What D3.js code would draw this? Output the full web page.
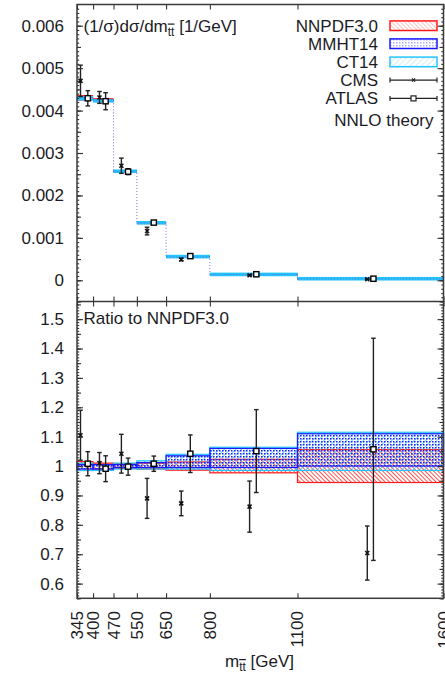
<!DOCTYPE html>
<html>
<head>
<meta charset="utf-8">
<script src="https://cdn.jsdelivr.net/npm/d3@7"></script>
<style>
  body { margin: 0; background: #fff; }
  svg { display: block; font-family: "Liberation Sans", Arial, sans-serif; }
  .lbl { fill: #1b1b24; font-size: 17px; }
  .axis text { fill: #1b1b24; font-size: 17px; font-family: "Liberation Sans", Arial, sans-serif; }
  .axis line { stroke: #333; stroke-width: 1.1; }
  .axis path { display: none; }
</style>
</head>
<body>
<script>
// bin edges of m_tt [GeV]
const edges = [345, 400, 470, 550, 650, 800, 1100, 1600];

// NNLO theory with NNPDF3.0, (1/sigma) dsigma/dm [1/GeV]
const theory = [0.00430, 0.00425, 0.00257, 0.00135, 0.00055, 0.000135, 0.000035];

// PDF bands, as ratio to NNPDF3.0
const nnpdfLo = [0.985, 0.990, 0.992, 0.990, 0.986, 0.977, 0.944];
const nnpdfHi = [1.015, 1.010, 1.008, 1.010, 1.014, 1.023, 1.056];
const mmhtLo  = [0.990, 0.990, 0.995, 0.995, 0.995, 0.995, 1.000];
const mmhtHi  = [1.005, 1.005, 1.005, 1.012, 1.035, 1.060, 1.110];
const ct14Lo  = [0.985, 0.985, 0.990, 0.990, 0.990, 0.985, 0.985];
const ct14Hi  = [1.010, 1.005, 1.010, 1.018, 1.040, 1.064, 1.115];

// CMS data
const cmsX      = [357, 422, 497, 585, 702, 936, 1339];
const cmsVal    = [0.00470, 0.00431, 0.00270, 0.00116, 0.00049, 0.000118, 0.000025];
const cmsErr    = [0.00037, 0.00014, 0.00018, 0.00009, 0.00003, 0.00001, 0.000003];
const cmsRatio  = [1.105, 1.010, 1.042, 0.890, 0.873, 0.862, 0.704];
const cmsRErr   = [0.085, 0.036, 0.066, 0.068, 0.042, 0.087, 0.092];

// ATLAS data
const atlasX     = [382, 443, 520, 608, 733, 959, 1360];
const atlasVal   = [0.00429, 0.00422, 0.00256, 0.00136, 0.00057, 0.000142, 0.000037];
const atlasErr   = [0.00018, 0.00020, 0.00007, 0.00004, 0.00003, 0.00002, 0.000013];
const atlasRatio = [1.008, 0.991, 0.998, 1.008, 1.042, 1.051, 1.057];
const atlasRErr  = [0.041, 0.044, 0.029, 0.026, 0.064, 0.141, 0.378];

// tick labels
const topTicks = [0, 0.001, 0.002, 0.003, 0.004, 0.005, 0.006];
const ratioTicks = [0.6, 0.7, 0.8, 0.9, 1, 1.1, 1.2, 1.3, 1.4, 1.5];

const W = 445, H = 676;
const left = 77, right = 443.5;
const top1 = 4.5, mid = 301.5, bot2 = 598.3;

const svg = d3.select('body').append('svg').attr('width', W).attr('height', H);

const x = d3.scaleLinear().domain([345, 1600]).range([left, right]);
const yTop = d3.scaleLinear().domain([-0.0005, 0.0065]).range([mid, top1]);
const yRat = d3.scaleLinear().domain([0.55, 1.56]).range([bot2, mid]);

// patterns for the bands
const defs = svg.append('defs');
function hatch(id, color, angle, gap, width) {
    const p = defs.append('pattern').attr('id', id)
        .attr('patternUnits', 'userSpaceOnUse')
        .attr('width', gap).attr('height', gap)
        .attr('patternTransform', `rotate(${angle})`);
    p.append('line').attr('x1', 0).attr('y1', 0).attr('x2', 0).attr('y2', gap)
        .attr('stroke', color).attr('stroke-width', width);
}
hatch('hNN', '#ff1a1a', -45, 3, 1.5);
hatch('hCT', '#22c4ff', 45, 4, 1.4);
const dots = defs.append('pattern').attr('id', 'hMM')
    .attr('patternUnits', 'userSpaceOnUse').attr('width', 3).attr('height', 3);
dots.append('rect').attr('width', 1.5).attr('height', 1.5).attr('fill', '#1a1aff');

const bands = [
    { name: 'NNPDF3.0', lo: nnpdfLo, hi: nnpdfHi, color: '#ff1a1a', fill: 'url(#hNN)', minH: 2.2 },
    { name: 'MMHT14', lo: mmhtLo, hi: mmhtHi, color: '#1a1aff', fill: 'url(#hMM)', minH: 2.2 },
    { name: 'CT14', lo: ct14Lo, hi: ct14Hi, color: '#22c4ff', fill: 'url(#hCT)', minH: 3.6 }
];
const bins = d3.range(theory.length);

// --- top panel: theory steps ---
const gTop = svg.append('g');
bands.forEach(b => {
    gTop.selectAll(null).data(bins).enter().append('rect')
        .attr('x', i => x(edges[i]))
        .attr('width', i => x(edges[i + 1]) - x(edges[i]))
        .attr('y', i => {
            const yc = yTop(theory[i] * (b.lo[i] + b.hi[i]) / 2);
            const h = Math.max(yTop(theory[i] * b.lo[i]) - yTop(theory[i] * b.hi[i]), b.minH);
            return yc - h / 2;
        })
        .attr('height', i => Math.max(yTop(theory[i] * b.lo[i]) - yTop(theory[i] * b.hi[i]), b.minH))
        .attr('fill', b.color);
});

// dotted central step line
const step = [];
bins.forEach(i => { step.push([edges[i], theory[i]]); step.push([edges[i + 1], theory[i]]); });
gTop.append('path')
    .attr('d', d3.line().x(d => x(d[0])).y(d => yTop(d[1]))(step))
    .attr('fill', 'none').attr('stroke', '#6f6fe8').attr('stroke-width', 1)
    .attr('stroke-dasharray', '1,2');

// --- ratio panel: bands ---
const gRat = svg.append('g');
[bands[0], bands[2], bands[1]].forEach(b => {
    gRat.selectAll(null).data(bins).enter().append('rect')
        .attr('x', i => x(edges[i]))
        .attr('width', i => x(edges[i + 1]) - x(edges[i]))
        .attr('y', i => yRat(b.hi[i]))
        .attr('height', i => yRat(b.lo[i]) - yRat(b.hi[i]))
        .attr('fill', b.fill)
        .attr('stroke', b.color).attr('stroke-width', 1.2);
});

// --- data points ---
function drawPoints(g, xs, vals, errs, y, kind) {
    const pts = g.selectAll(null).data(d3.range(xs.length)).enter().append('g')
        .attr('transform', i => `translate(${x(xs[i])},0)`);
    pts.append('line')
        .attr('x1', 0).attr('x2', 0)
        .attr('y1', i => y(vals[i] - errs[i])).attr('y2', i => y(vals[i] + errs[i]))
        .attr('stroke', '#222').attr('stroke-width', 1.4);
    [-1, 1].forEach(s => {
        pts.append('line')
            .attr('x1', -2.3).attr('x2', 2.3)
            .attr('y1', i => y(vals[i] + s * errs[i])).attr('y2', i => y(vals[i] + s * errs[i]))
            .attr('stroke', '#222').attr('stroke-width', 1.4);
    });
    if (kind === 'cms') {
        pts.append('path')
            .attr('d', i => {
                const yy = y(vals[i]);
                return `M-2,${yy - 2}L2,${yy + 2}M-2,${yy + 2}L2,${yy - 2}`;
            })
            .attr('stroke', '#111').attr('stroke-width', 1.5);
    } else {
        pts.append('rect')
            .attr('x', -2.6).attr('y', i => y(vals[i]) - 2.6)
            .attr('width', 5.2).attr('height', 5.2)
            .attr('fill', '#fff').attr('stroke', '#000').attr('stroke-width', 1.4);
    }
}
drawPoints(gTop, cmsX, cmsVal, cmsErr, yTop, 'cms');
drawPoints(gTop, atlasX, atlasVal, atlasErr, yTop, 'atlas');
drawPoints(gRat, cmsX, cmsRatio, cmsRErr, yRat, 'cms');
drawPoints(gRat, atlasX, atlasRatio, atlasRErr, yRat, 'atlas');

// --- frames and ticks ---
function yAxes(scale, majors, medStep, minStep, fmt) {
    const dom = scale.domain();
    const meds = d3.range(Math.ceil(dom[0] / medStep) * medStep, dom[1], medStep);
    const mins = d3.range(Math.ceil(dom[0] / minStep) * minStep, dom[1], minStep);
    const gl = svg.append('g').attr('class', 'axis').attr('transform', `translate(${left},0)`);
    gl.call(d3.axisLeft(scale).tickValues(majors).tickSizeInner(-6).tickSizeOuter(0).tickPadding(13).tickFormat(fmt));
    gl.append('g').call(d3.axisLeft(scale).tickValues(meds).tickSizeInner(-4).tickSizeOuter(0).tickFormat(''));
    gl.append('g').call(d3.axisLeft(scale).tickValues(mins).tickSizeInner(-2.2).tickSizeOuter(0).tickFormat(''));
    const gr = svg.append('g').attr('class', 'axis').attr('transform', `translate(${right},0)`);
    gr.call(d3.axisRight(scale).tickValues(majors).tickSizeInner(-6).tickSizeOuter(0).tickFormat(''));
    gr.append('g').call(d3.axisRight(scale).tickValues(meds).tickSizeInner(-4).tickSizeOuter(0).tickFormat(''));
    gr.append('g').call(d3.axisRight(scale).tickValues(mins).tickSizeInner(-2.2).tickSizeOuter(0).tickFormat(''));
}
yAxes(yTop, topTicks, 0.0005, 0.0001, d => d === 0 ? '0' : d3.format('.3f')(d));
yAxes(yRat, ratioTicks, 0.05, 0.01, d => d === 1 ? '1' : d3.format('.1f')(d));

// x ticks at bin edges
[[top1, 5], [mid, -5], [mid, 5], [bot2, -5]].forEach(([yy, len]) => {
    const g = svg.append('g').attr('class', 'axis').attr('transform', `translate(0,${yy})`);
    g.call(d3.axisBottom(x).tickValues(edges).tickSizeInner(len).tickSizeOuter(0).tickFormat(''));
});

// x tick labels, rotated
svg.append('g').selectAll('text').data(edges).enter().append('text')
    .attr('class', 'lbl')
    .attr('transform', d => `translate(${x(d) + 6},611) rotate(-90)`)
    .attr('text-anchor', 'end')
    .text(d => d);

// frame
const frame = svg.append('g').attr('fill', 'none').attr('stroke', '#3a3a3a').attr('stroke-width', 1.5);
frame.append('rect').attr('x', left).attr('y', top1).attr('width', right - left).attr('height', bot2 - top1);
frame.append('line').attr('x1', left).attr('x2', right).attr('y1', mid).attr('y2', mid);

// panel titles
const t1 = svg.append('text').attr('class', 'lbl').attr('x', 83.5).attr('y', 31.5);
t1.append('tspan').text('(1/σ)dσ/dm');
t1.append('tspan').attr('font-size', 12).attr('dy', 4).style('text-decoration', 'overline').text('tt');
t1.append('tspan').attr('dy', -4).text(' [1/GeV]');

svg.append('text').attr('class', 'lbl').attr('x', 83.5).attr('y', 324.3).text('Ratio to NNPDF3.0');

// x label
const xl = svg.append('text').attr('class', 'lbl').attr('x', 225).attr('y', 667);
xl.append('tspan').text('m');
xl.append('tspan').attr('font-size', 12).attr('dy', 4).style('text-decoration', 'overline').text('tt');
xl.append('tspan').attr('dy', -4).text(' [GeV]');

// legend
const legendRows = [25.7, 43.7, 61.9, 80.1, 98.4];
const legX = 378, boxX = 390, boxW = 47;
bands.forEach((b, k) => {
    const yc = legendRows[k];
    svg.append('text').attr('class', 'lbl').attr('x', legX).attr('y', yc + 6).attr('text-anchor', 'end').text(b.name);
    svg.append('rect').attr('x', boxX).attr('y', yc - 4.8).attr('width', boxW).attr('height', 9.6)
        .attr('fill', b.fill).attr('fill-opacity', 0.35)
        .attr('stroke', b.color).attr('stroke-width', 1.5);
});
['CMS', 'ATLAS'].forEach((name, k) => {
    const yc = legendRows[3 + k];
    svg.append('text').attr('class', 'lbl').attr('x', legX).attr('y', yc + 6).attr('text-anchor', 'end').text(name);
    const g = svg.append('g').attr('stroke', '#222').attr('stroke-width', 1.2);
    g.append('line').attr('x1', boxX).attr('x2', boxX + boxW).attr('y1', yc).attr('y2', yc);
    g.append('line').attr('x1', boxX).attr('x2', boxX).attr('y1', yc - 2.5).attr('y2', yc + 2.5);
    g.append('line').attr('x1', boxX + boxW).attr('x2', boxX + boxW).attr('y1', yc - 2.5).attr('y2', yc + 2.5);
    const cx = boxX + boxW / 2;
    if (name === 'CMS') {
        g.append('path').attr('d', `M${cx - 1.6},${yc - 1.6}L${cx + 1.6},${yc + 1.6}M${cx - 1.6},${yc + 1.6}L${cx + 1.6},${yc - 1.6}`);
    } else {
        g.append('rect').attr('x', cx - 2.5).attr('y', yc - 2.5).attr('width', 5).attr('height', 5).attr('fill', '#fff');
    }
});
svg.append('text').attr('class', 'lbl').attr('x', 433.5).attr('y', 125.5).attr('text-anchor', 'end').text('NNLO theory');
</script>
</body>
</html>
